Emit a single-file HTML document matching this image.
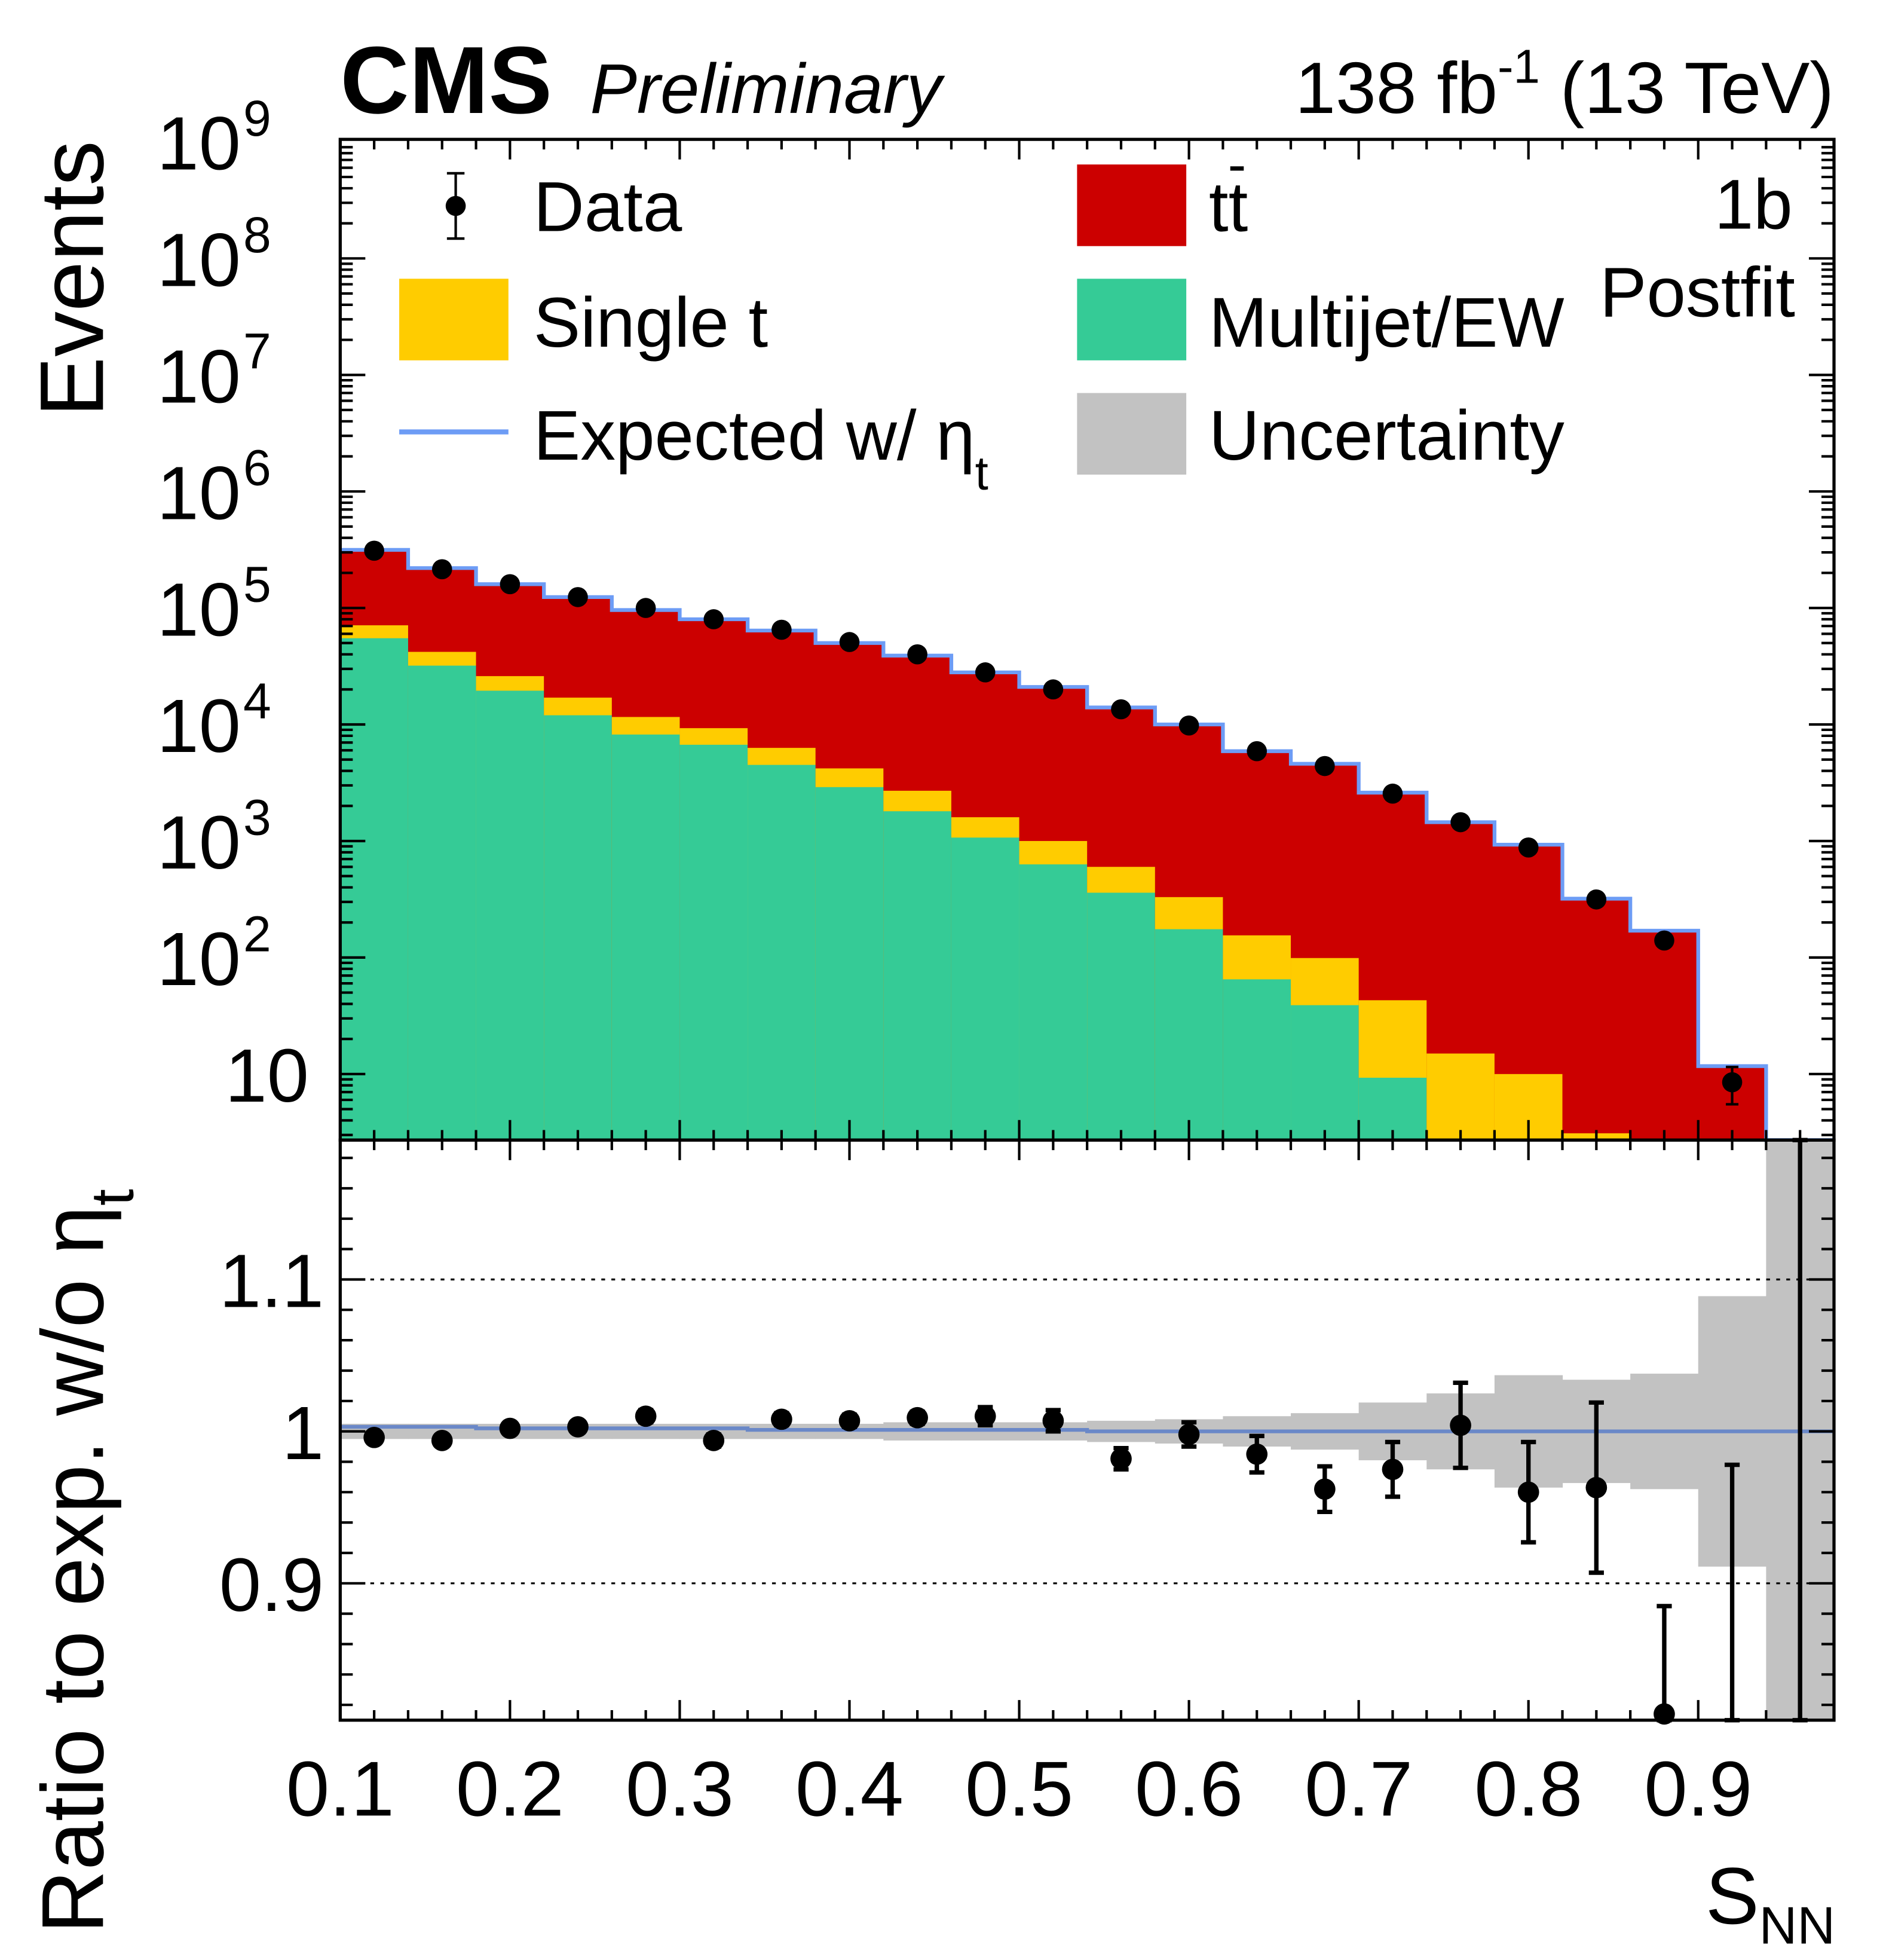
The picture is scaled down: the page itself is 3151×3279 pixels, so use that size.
<!DOCTYPE html>
<html><head><meta charset="utf-8"><style>
html,body{margin:0;padding:0;background:#fff;}
svg{display:block;font-family:"Liberation Sans",sans-serif;}
</style></head><body>
<svg id="chart" width="3151" height="3279" viewBox="0 0 1500 1561" xmlns="http://www.w3.org/2000/svg">
<g id="marks"></g>
<g id="frame"></g>
<g>
<text x="271" y="90" font-size="76" font-weight="bold">CMS</text>
<text x="470" y="90" font-size="56" font-style="italic">Preliminary</text>
<text x="1461" y="90" font-size="58" text-anchor="end">138 fb<tspan dy="-24" font-size="38">-1</tspan><tspan dy="24"> (13 TeV)</tspan></text>
</g>
<g font-size="56">
<g><line x1="363" y1="138" x2="363" y2="190" stroke="#000" stroke-width="2"/><line x1="356" y1="138" x2="370" y2="138" stroke="#000" stroke-width="2"/><line x1="356" y1="190" x2="370" y2="190" stroke="#000" stroke-width="2"/><circle cx="363" cy="164" r="8"/><text x="425" y="184">Data</text></g>
<g><rect x="318" y="222" width="87" height="65" fill="#ffcc00"/><text x="425" y="276">Single t</text></g>
<g><line x1="318" y1="344" x2="405" y2="344" stroke="#6d9cf5" stroke-width="4"/><text x="425" y="366">Expected w/ η<tspan dy="24" font-size="38">t</tspan></text></g>
<g><rect x="858" y="131" width="87" height="65" fill="#cc0000"/><text x="963" y="184">tt<tspan dx="-16" dy="-38" font-size="44">-</tspan></text></g>
<g><rect x="858" y="222" width="87" height="65" fill="#35cb96"/><text x="963" y="276">Multijet/EW</text></g>
<g><rect x="858" y="313" width="87" height="65" fill="#c2c2c2"/><text x="963" y="366">Uncertainty</text></g>
<text x="1428" y="182" text-anchor="end">1b</text>
<text x="1430" y="252" text-anchor="end">Postfit</text>
</g>
<text transform="translate(82,112) rotate(-90)" font-size="72" text-anchor="end">Events</text>
<text transform="translate(82,1540) rotate(-90)" font-size="70">Ratio to exp. w/o η<tspan dy="24" font-size="48">t</tspan></text>
<text x="1462" y="1532" font-size="64" text-anchor="end">S<tspan dy="16" font-size="42">NN</tspan></text>
</svg>
<script>
const binEdgesLo = [0.10,0.14,0.18,0.22,0.26,0.30,0.34,0.38,0.42,0.46,0.50,0.54,0.58,0.62,0.66,0.70,0.74,0.78,0.82,0.86,0.90,0.94];
const binWidth = 0.04;
const totalExp = [3.15e5,2.2e5,1.6e5,1.24e5,9.6e4,8.0e4,6.4e4,5.0e4,3.9e4,2.8e4,2.1e4,1.4e4,1.0e4,5.9e3,4.6e3,2.6e3,1.45e3,930,320,170,11.7,0];
const singleTStack = [7.1e4,4.2e4,2.6e4,1.7e4,1.16e4,9.3e3,6.3e3,4.2e3,2.7e3,1.6e3,1.0e3,600,330,155,99,43,15,10,3.1,1,0,0];
const multijet = [5.5e4,3.2e4,1.95e4,1.2e4,8.2e3,6.7e3,4.5e3,2.9e3,1.8e3,1.07e3,630,360,175,65,39,9.3,1,1,1,1,0,0];
const dataCounts = [3.1e5,2.15e5,1.6e5,1.24e5,1.0e5,8.0e4,6.5e4,5.1e4,4.0e4,2.8e4,2.0e4,1.35e4,9.8e3,5.9e3,4.4e3,2.55e3,1.45e3,880,315,140,8.5,null];
const dataErrLog = [0,0,0,0,0,0,0,0,0,0,0,0,0,0,0,0,0,0,0,0,3.0,0];
const ratioVals = [0.996,0.994,1.002,1.003,1.010,0.994,1.008,1.007,1.009,1.010,1.007,0.982,0.998,0.985,0.962,0.975,1.004,0.960,0.963,0.814,0.70,0.60];
const ratioErr = [0.003,0.003,0.003,0.003,0.004,0.004,0.004,0.004,0.004,0.006,0.007,0.007,0.008,0.012,0.015,0.018,0.028,0.033,0.056,0.071,0.278,0.60];
const uncHalf = [0.005,0.005,0.005,0.005,0.005,0.005,0.005,0.005,0.006,0.006,0.006,0.007,0.008,0.010,0.012,0.019,0.025,0.037,0.034,0.038,0.089,0.5];
const expRatio = [1.003,1.003,1.002,1.002,1.002,1.002,1.001,1.001,1.001,1.001,1.001,1.000,1.000,1.000,1.000,1.000,1.000,1.000,1.000,1.000,1.000,1.000];
const logTicks = ["10^9","10^8","10^7","10^6","10^5","10^4","10^3","10^2","10"];
const ratioTicks = [1.1,1.0,0.9];
const ratioTickLabels = ["1.1","1","0.9"];
const xTickVals = [0.1,0.2,0.3,0.4,0.5,0.6,0.7,0.8,0.9];

const L=271,R=1461,T=111,MB=908,RB=1370;
const X = v => L + (v-0.1)/0.88*(R-L);
const YL = v => { const y = 113 + (9-Math.log10(Math.max(v,1e-3)))*92.8; return Math.min(y,MB); };
const YRc = v => Math.max(MB, Math.min(RB, 1140 - (v-1)*1210));
const NS='http://www.w3.org/2000/svg';
const marks=document.getElementById('marks'), frame=document.getElementById('frame');
function mk(tag,attrs,parent){const e=document.createElementNS(NS,tag);for(const k in attrs)e.setAttribute(k,attrs[k]);parent.appendChild(e);return e;}

for(let i=0;i<binEdgesLo.length;i++){
  const x0=X(binEdgesLo[i]), x1=X(binEdgesLo[i]+binWidth);
  if(totalExp[i]>0){
    const r=mk('rect',{x:x0,y:YL(totalExp[i]),width:x1-x0+0.5,height:MB-YL(totalExp[i]),fill:'#cc0000'},marks);
    
    
  }
  if(singleTStack[i]>0){
    const r=mk('rect',{x:x0,y:YL(singleTStack[i]),width:x1-x0+0.5,height:MB-YL(singleTStack[i]),fill:'#ffcc00'},marks);
    
    
  }
  if(multijet[i]>0){
    const r=mk('rect',{x:x0,y:YL(multijet[i]),width:x1-x0+0.5,height:MB-YL(multijet[i]),fill:'#35cb96'},marks);
    
    
  }
}
let d='M'+L+','+YL(totalExp[0]);
for(let i=0;i<binEdgesLo.length;i++){
  const x0=X(binEdgesLo[i]), x1=X(binEdgesLo[i]+binWidth), y=totalExp[i]>0?YL(totalExp[i]):MB;
  d+=' L'+x0+','+y+' L'+x1+','+y;
}
const ol=mk('path',{d:d,fill:'none',stroke:'#6d9cf5','stroke-width':3},marks);


for(let i=0;i<binEdgesLo.length;i++){
  if(dataCounts[i]==null) continue;
  const cx=X(binEdgesLo[i]+binWidth/2), cy=YL(dataCounts[i]);
  if(dataErrLog[i]>0){
    const e=mk('path',{d:`M${cx},${YL(dataCounts[i]+dataErrLog[i])} V${YL(dataCounts[i]-dataErrLog[i])} M${cx-5},${YL(dataCounts[i]+dataErrLog[i])} h10 M${cx-5},${YL(dataCounts[i]-dataErrLog[i])} h10`,stroke:'#000','stroke-width':2,fill:'none'},marks);
    
    
  }
  const c=mk('circle',{cx:cx,cy:cy,r:8,fill:'#000'},marks);
  
  
}
for(let i=0;i<binEdgesLo.length;i++){
  const x0=X(binEdgesLo[i]), x1=X(binEdgesLo[i]+binWidth);
  const yt=YRc(1+uncHalf[i]), yb=YRc(1-uncHalf[i]);
  const r=mk('rect',{x:x0,y:yt,width:x1-x0+0.3,height:yb-yt,fill:'#c2c2c2'},marks);
  
  
}
ratioTicks.forEach(v=>{ if(v===1.0) return;
  const g=mk('line',{x1:L,x2:R,y1:YRc(v),y2:YRc(v),stroke:'#000','stroke-width':1.5,'stroke-dasharray':'3 5'},marks);
  
  
});
let d2='';
for(let i=0;i<binEdgesLo.length;i++){
  const x0=X(binEdgesLo[i]), x1=X(binEdgesLo[i]+binWidth), y=YRc(expRatio[i]);
  d2+=(i?' L':'M')+x0+','+y+' L'+x1+','+y;
}
const el2=mk('path',{d:d2,fill:'none',stroke:'#6a88c8','stroke-width':3},marks);


for(let i=0;i<binEdgesLo.length;i++){
  const cx=X(binEdgesLo[i]+binWidth/2);
  const yt=YRc(ratioVals[i]+ratioErr[i]), yb=YRc(ratioVals[i]-ratioErr[i]);
  const e=mk('path',{d:`M${cx},${yt} V${yb} M${cx-6},${yt} h12 M${cx-6},${yb} h12`,stroke:'#000','stroke-width':3.5,fill:'none'},marks);
  
  
  if(ratioVals[i]>=0.805){
    const c=mk('circle',{cx:cx,cy:YRc(ratioVals[i]),r:8.5,fill:'#000'},marks);
    
    
  }
}
[[T,MB],[MB,RB]].forEach(([a,b])=>{
  const f=mk('rect',{x:L,y:a,width:R-L,height:b-a,fill:'none',stroke:'#000','stroke-width':2.5},frame);
  
  
});
let td='';
for(let k=0;k<=44;k++){ const v=0.1+k*0.02; if(v>0.981) break; const x=X(v); const major=(k%5===0); const len=major?16:8;
  td+=`M${x},${MB} v${-len} M${x},${T} v${len} M${x},${MB} v${len} M${x},${RB} v${-len} `; }
for(let dcd=0;dcd<9;dcd++){ for(let m=1;m<10;m++){ const v=Math.pow(10,dcd)*m; const y=YL(v); if(y<T||y>=MB) continue; const len=m===1?20:10;
  td+=`M${L},${y} h${len} M${R},${y} h${-len} `; } }
for(let v=0.82;v<=1.19;v+=0.02){ const y=YRc(v); const major=Math.abs(Math.round(v*10)-v*10)<1e-6; const len=major?20:10;
  td+=`M${L},${y} h${len} M${R},${y} h${-len} `; }
const ticks=mk('path',{d:td,stroke:'#000','stroke-width':2,fill:'none'},frame);


logTicks.forEach((s,i)=>{
  const y=113+i*92.8;
  const t=mk('text',{x:246,y:y+22,'font-size':60,'text-anchor':'end'},frame);
  
  
  if(s.indexOf('^')>0){ const [b,e]=s.split('^'); t.setAttribute('x',216); t.textContent=b;
    const sp=document.createElementNS(NS,'tspan'); sp.setAttribute('dy','-27'); sp.setAttribute('font-size','40'); sp.setAttribute('dx','2'); sp.textContent=e; t.appendChild(sp);
  } else { t.setAttribute('x',246); t.textContent=s; }
});
ratioTicks.forEach((v,i)=>{
  const t=mk('text',{x:258,y:YRc(v)+22,'font-size':60,'text-anchor':'end'},frame);
  
  
  t.textContent=ratioTickLabels[i];
});
xTickVals.forEach(v=>{
  const t=mk('text',{x:X(v),y:1446,'font-size':62,'text-anchor':'middle'},frame);
  
  
  t.textContent=v.toFixed(1);
});
</script>
</body></html>
